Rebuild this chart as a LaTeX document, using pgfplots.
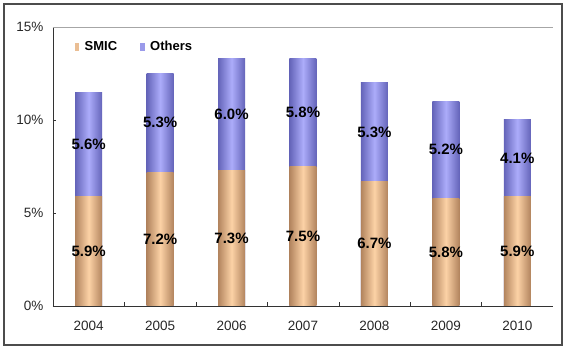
\documentclass[border=0pt]{standalone}
\usepackage{fontspec}
\setmainfont{Liberation Sans}
\usepackage{pgfplots}
\usepackage{pgfplotstable}
\pgfplotsset{compat=1.18}
\definecolor{smicL}{RGB}{252,210,166}
\definecolor{smicD}{RGB}{178,132,94}
\definecolor{othL}{RGB}{172,172,250}
\definecolor{othD}{RGB}{100,100,185}
\pgfplotstableread{
x year smic others
0 2004 5.9 5.6
1 2005 7.2 5.3
2 2006 7.3 6.0
3 2007 7.5 5.8
4 2008 6.7 5.3
5 2009 5.8 5.2
6 2010 5.9 4.1
}\data
\begin{document}
\begin{tikzpicture}[x=1pt,y=1pt]
\path (-53,-46) rectangle (515,306);
\draw[line width=1.6pt, black!70] (-49,-39) rectangle (509,302);
\begin{axis}[
  at={(0,0)}, anchor=south west,
  width=500pt, height=279pt, scale only axis,
  ybar, bar width=27pt, bar shift=0pt,
  xmin=-0.5, xmax=6.5, ymin=0, ymax=15,
  xtick={0,1,2,3,4,5,6},
  xticklabels={2004,2005,2006,2007,2008,2009,2010},
  minor xtick={0.5,1.5,2.5,3.5,4.5,5.5},
  ytick={0,5,10,15},
  yticklabel={\pgfmathprintnumber{\tick}\%},
  /pgf/number format/assume math mode=true,
  tick align=inside, major tick length=3pt, minor tick length=4pt,
  x tick style={draw=none},
  minor x tick style={draw=black!80},
  y tick style={draw=black!80},
  axis x line*=bottom, axis y line*=left,
  axis line style={-, black!80, line width=0.8pt},
  ticklabel style={font=\fontsize{13.5}{14}\selectfont, text=black!85},
  yticklabel style={xshift=-6pt},
  xticklabel style={yshift=-12pt},
  legend style={draw=none, fill=none, at={(rel axis cs:0.035,0.93)}, anchor=west,
    legend columns=2, font=\fontsize{13}{13}\selectfont\bfseries,
    /tikz/every even column/.append style={column sep=20pt}},
  legend image code/.code={\fill[#1, draw=none] (0pt,-4pt) rectangle (4.5pt,4pt);
    \path[draw=none, fill=none] (-1pt,-0.1pt) rectangle (8pt,0.1pt);},
]
\pgfplotsinvokeforeach{0,...,6}{
  \addplot[forget plot, draw=none, left color=othD, right color=othD, middle color=othL,
    restrict x to domain=#1:#1]
    table[x=x, y expr=\thisrow{smic}+\thisrow{others}] {\data};
  \addplot[forget plot, draw=none, left color=smicD, right color=smicD, middle color=smicL,
    restrict x to domain=#1:#1]
    table[x=x, y=smic] {\data};
}
\addlegendimage{fill=smicL!75!smicD}
\addlegendentry{SMIC}
\addlegendimage{fill=othL!75!othD}
\addlegendentry{Others}
\addplot[forget plot, draw=none, fill=none, point meta=explicit,
  nodes near coords={\pgfmathprintnumber[fixed,fixed zerofill,precision=1]{\pgfplotspointmeta}\%},
  nodes near coords align={center},
  every node near coord/.append style={anchor=center, text=black, font=\fontsize{15}{15}\selectfont\bfseries}]
  table[x=x, y expr=\thisrow{smic}/2, meta=smic] {\data};
\addplot[forget plot, draw=none, fill=none, point meta=explicit,
  nodes near coords={\pgfmathprintnumber[fixed,fixed zerofill,precision=1]{\pgfplotspointmeta}\%},
  nodes near coords align={center},
  every node near coord/.append style={anchor=center, text=black, font=\fontsize{15}{15}\selectfont\bfseries}]
  table[x=x, y expr=\thisrow{smic}+\thisrow{others}/2, meta=others] {\data};
\draw[black!35, line width=0.8pt] (rel axis cs:0,1) -- (rel axis cs:1,1) -- (rel axis cs:1,0);
\end{axis}
\end{tikzpicture}
\end{document}
